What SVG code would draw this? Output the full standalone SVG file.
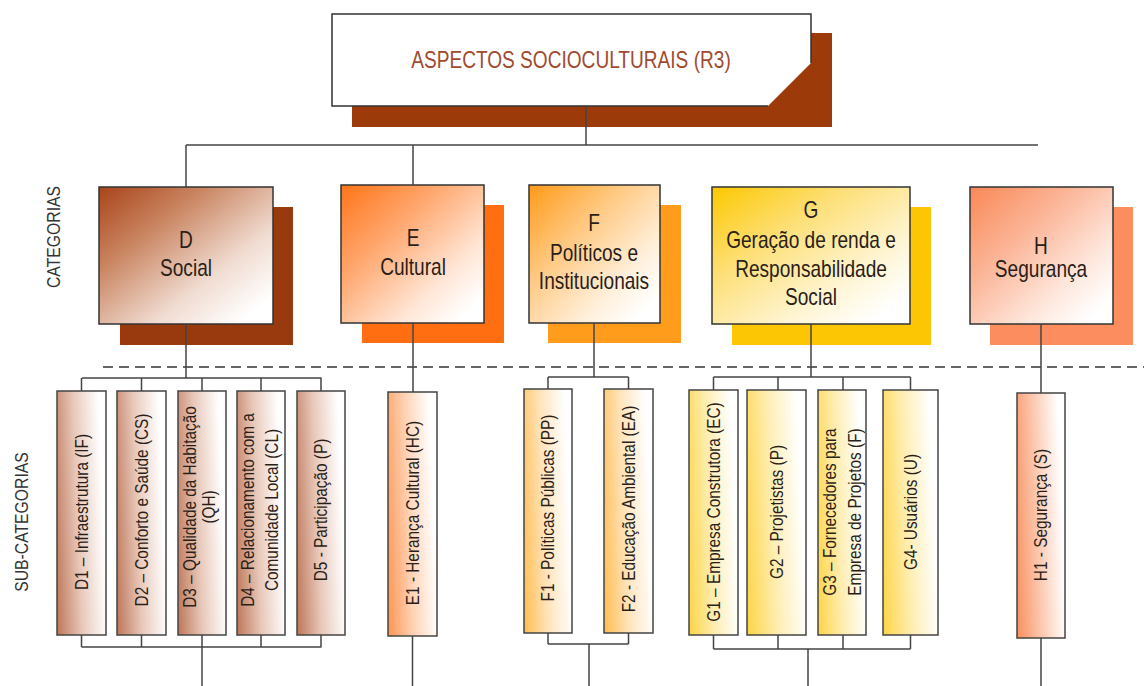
<svg xmlns="http://www.w3.org/2000/svg" width="1144" height="686" viewBox="0 0 1144 686">
<defs>
<style>
text{font-family:"Liberation Sans",Arial,sans-serif;text-anchor:middle;fill:#2a1e18}
.t{font-size:23px}
.title{font-size:23px;fill:#a04a2e}
.s{font-size:18.5px}
.lbl{font-size:19px;fill:#333}
.box{stroke:#333;stroke-width:1.5}
.sub{stroke:#444;stroke-width:1.5}
.ln{stroke:#444;stroke-width:1.5;fill:none}
.dash{stroke:#333;stroke-width:1.5;stroke-dasharray:10 6;fill:none}
</style>
<linearGradient id="gD" x1="0" y1="0" x2="1" y2="1"><stop offset="0" stop-color="#a9441a"/><stop offset="0.3" stop-color="#c98460"/><stop offset="0.65" stop-color="#f0dbd0"/><stop offset="0.9" stop-color="#ffffff"/></linearGradient>
<linearGradient id="gE" x1="0" y1="0" x2="1" y2="1"><stop offset="0" stop-color="#ff7418"/><stop offset="0.35" stop-color="#ffa870"/><stop offset="0.7" stop-color="#ffe6d6"/><stop offset="0.9" stop-color="#ffffff"/></linearGradient>
<linearGradient id="gF" x1="0" y1="0" x2="1" y2="1"><stop offset="0" stop-color="#ff9a18"/><stop offset="0.35" stop-color="#ffc880"/><stop offset="0.7" stop-color="#fff0dc"/><stop offset="0.9" stop-color="#ffffff"/></linearGradient>
<linearGradient id="gG" x1="0" y1="0" x2="1" y2="1"><stop offset="0" stop-color="#fcc800"/><stop offset="0.35" stop-color="#fde07a"/><stop offset="0.7" stop-color="#fff6d8"/><stop offset="0.9" stop-color="#ffffff"/></linearGradient>
<linearGradient id="gH" x1="0" y1="0" x2="1" y2="1"><stop offset="0" stop-color="#f98856"/><stop offset="0.35" stop-color="#fbb496"/><stop offset="0.7" stop-color="#fee8de"/><stop offset="0.9" stop-color="#ffffff"/></linearGradient>
<linearGradient id="sD" x1="0" y1="1" x2="1" y2="0.8"><stop offset="0" stop-color="#bd7658"/><stop offset="0.5" stop-color="#e8c8ba"/><stop offset="1" stop-color="#ffffff"/></linearGradient>
<linearGradient id="sE" x1="0" y1="1" x2="1" y2="0.8"><stop offset="0" stop-color="#ff9452"/><stop offset="0.5" stop-color="#ffd2b4"/><stop offset="1" stop-color="#ffffff"/></linearGradient>
<linearGradient id="sF" x1="0" y1="1" x2="1" y2="0.8"><stop offset="0" stop-color="#ffbc50"/><stop offset="0.5" stop-color="#ffe4bc"/><stop offset="1" stop-color="#ffffff"/></linearGradient>
<linearGradient id="sG" x1="0" y1="1" x2="1" y2="0.8"><stop offset="0" stop-color="#fdd444"/><stop offset="0.5" stop-color="#feedb0"/><stop offset="1" stop-color="#ffffff"/></linearGradient>
<linearGradient id="sH" x1="0" y1="1" x2="1" y2="0.8"><stop offset="0" stop-color="#f8905e"/><stop offset="0.5" stop-color="#fcc8b0"/><stop offset="1" stop-color="#ffffff"/></linearGradient>
</defs>
<rect width="1144" height="686" fill="#ffffff"/>

<g id="labels">
<text class="lbl" transform="translate(53,237) rotate(-90) scale(0.83,1)" y="7">CATEGORIAS</text>
<text class="lbl" transform="translate(21,522) rotate(-90) scale(0.83,1)" y="7">SUB-CATEGORIAS</text>
</g>

<g id="separator">
<path class="dash" d="M103,367 H1144"/>
</g>

<g id="node-R3">
<rect x="352" y="33" width="480" height="94" fill="#9c3a0a"/>
<polygon points="332,14 811,14 811,63 768,106 332,106" fill="#ffffff"/>
<path d="M811,63 V14 H332 V106 H768" fill="none" stroke="#333" stroke-width="1.5"/>
<text class="title" transform="translate(571,68) scale(0.83,1)">ASPECTOS SOCIOCULTURAIS (R3)</text>
</g>

<g id="node-D">
<rect x="120" y="207" width="173" height="138" fill="#993a0e"/>
<rect class="box" x="99" y="187" width="174" height="137" fill="url(#gD)"/>
<text class="t" transform="translate(186,0) scale(0.83,1)" y="248">D</text>
<text class="t" transform="translate(186,0) scale(0.83,1)" y="276">Social</text>
</g>
<g id="node-E">
<rect x="362" y="205" width="142" height="138" fill="#ff6f12"/>
<rect class="box" x="341" y="185" width="143" height="138" fill="url(#gE)"/>
<text class="t" transform="translate(413,0) scale(0.83,1)" y="246">E</text>
<text class="t" transform="translate(413,0) scale(0.83,1)" y="275">Cultural</text>
</g>
<g id="node-F">
<rect x="548" y="205" width="133" height="138" fill="#ff9c1c"/>
<rect class="box" x="529" y="185" width="131" height="138" fill="url(#gF)"/>
<text class="t" transform="translate(594,0) scale(0.83,1)" y="231">F</text>
<text class="t" transform="translate(594,0) scale(0.83,1)" y="261">Políticos e</text>
<text class="t" transform="translate(594,0) scale(0.83,1)" y="289">Institucionais</text>
</g>
<g id="node-G">
<rect x="732" y="207" width="199" height="138" fill="#fcc604"/>
<rect class="box" x="712" y="187" width="198" height="137" fill="url(#gG)"/>
<text class="t" transform="translate(811,0) scale(0.83,1)" y="218">G</text>
<text class="t" transform="translate(811,0) scale(0.83,1)" y="248">Geração de renda e</text>
<text class="t" transform="translate(811,0) scale(0.83,1)" y="277">Responsabilidade</text>
<text class="t" transform="translate(811,0) scale(0.83,1)" y="305">Social</text>
</g>
<g id="node-H">
<rect x="990" y="207" width="143" height="138" fill="#fb8d5e"/>
<rect class="box" x="970" y="187" width="143" height="137" fill="url(#gH)"/>
<text class="t" transform="translate(1041,0) scale(0.83,1)" y="254">H</text>
<text class="t" transform="translate(1041,0) scale(0.83,1)" y="277">Segurança</text>
</g>

<g id="node-D1"><rect class="sub" x="57" y="391" width="49" height="244" fill="url(#sD)"/>
<text class="s" transform="translate(81.5,512) rotate(-90) scale(0.83,1)" y="6">D1 – Infraestrutura (IF)</text></g>
<g id="node-D2"><rect class="sub" x="117" y="391" width="49" height="244" fill="url(#sD)"/>
<text class="s" transform="translate(141.5,510) rotate(-90) scale(0.83,1)" y="6">D2 – Conforto e Saúde (CS)</text></g>
<g id="node-D3"><rect class="sub" x="178" y="391" width="48" height="244" fill="url(#sD)"/>
<text class="s" transform="translate(202,507) rotate(-90) scale(0.83,1)" y="-6">D3 – Qualidade da Habitação</text>
<text class="s" transform="translate(202,507) rotate(-90) scale(0.83,1)" y="13">(QH)</text></g>
<g id="node-D4"><rect class="sub" x="237" y="391" width="48" height="244" fill="url(#sD)"/>
<text class="s" transform="translate(261,510) rotate(-90) scale(0.83,1)" y="-7">D4 – Relacionamento com a</text>
<text class="s" transform="translate(261,510) rotate(-90) scale(0.83,1)" y="17">Comunidade Local (CL)</text></g>
<g id="node-D5"><rect class="sub" x="297" y="391" width="48" height="244" fill="url(#sD)"/>
<text class="s" transform="translate(321,510) rotate(-90) scale(0.83,1)" y="6">D5 - Participação (P)</text></g>

<g id="node-E1"><rect class="sub" x="388" y="392" width="49" height="244" fill="url(#sE)"/>
<text class="s" transform="translate(412.5,513) rotate(-90) scale(0.83,1)" y="6">E1 - Herança Cultural (HC)</text></g>

<g id="node-F1"><rect class="sub" x="524" y="389" width="48" height="244" fill="url(#sF)"/>
<text class="s" transform="translate(548,508) rotate(-90) scale(0.83,1)" y="6">F1 - Políticas Públicas (PP)</text></g>
<g id="node-F2"><rect class="sub" x="604" y="389" width="49" height="244" fill="url(#sF)"/>
<text class="s" transform="translate(628.5,509) rotate(-90) scale(0.83,1)" y="6">F2 - Educação Ambiental (EA)</text></g>

<g id="node-G1"><rect class="sub" x="689" y="390" width="49" height="245" fill="url(#sG)"/>
<text class="s" transform="translate(713.5,512) rotate(-90) scale(0.83,1)" y="6">G1 – Empresa Construtora (EC)</text></g>
<g id="node-G2"><rect class="sub" x="747" y="390" width="59" height="245" fill="url(#sG)"/>
<text class="s" transform="translate(776.5,512) rotate(-90) scale(0.83,1)" y="6">G2 – Projetistas (P)</text></g>
<g id="node-G3"><rect class="sub" x="818" y="390" width="48" height="245" fill="url(#sG)"/>
<text class="s" transform="translate(842,512) rotate(-90) scale(0.83,1)" y="-6">G3 – Fornecedores para</text>
<text class="s" transform="translate(842,512) rotate(-90) scale(0.83,1)" y="19">Empresa de Projetos (F)</text></g>
<g id="node-G4"><rect class="sub" x="883" y="390" width="55" height="245" fill="url(#sG)"/>
<text class="s" transform="translate(910.5,512) rotate(-90) scale(0.83,1)" y="6">G4- Usuários (U)</text></g>

<g id="node-H1"><rect class="sub" x="1017" y="393" width="48" height="245" fill="url(#sH)"/>
<text class="s" transform="translate(1041,515) rotate(-90) scale(0.83,1)" y="6">H1 - Segurança (S)</text></g>

<g id="connectors">
<path class="ln" d="M586,106 V145 M186,145 H1038 M186,145 V187 M413,145 V185"/>
<path class="ln" d="M186,324 V378 M82,378 H321.5 M81.5,378 V391 M141.5,378 V391 M202,378 V391 M261,378 V391 M321,378 V391"/>
<path class="ln" d="M81.5,635 V647 M141.5,635 V647 M202,635 V647 M261,635 V647 M321,635 V647 M81.5,647 H321.5 M202,647 V686"/>
<path class="ln" d="M413,323 V392 M412.5,636 V686"/>
<path class="ln" d="M594,323 V377 M548,377 H628.5 M548,377 V389 M628.5,377 V389 M548,633 V644 M628.5,633 V644 M548,644 H628.5 M589,644 V686"/>
<path class="ln" d="M811,324 V377 M713.5,377 H910.5 M713.5,377 V390 M778,377 V390 M843,377 V390 M910.5,377 V390"/>
<path class="ln" d="M713.5,635 V649 M778,635 V649 M843,635 V649 M910.5,635 V649 M713.5,649 H910.5 M808,649 V686"/>
<path class="ln" d="M1041,324 V393 M1041,638 V686"/>
</g>
</svg>
